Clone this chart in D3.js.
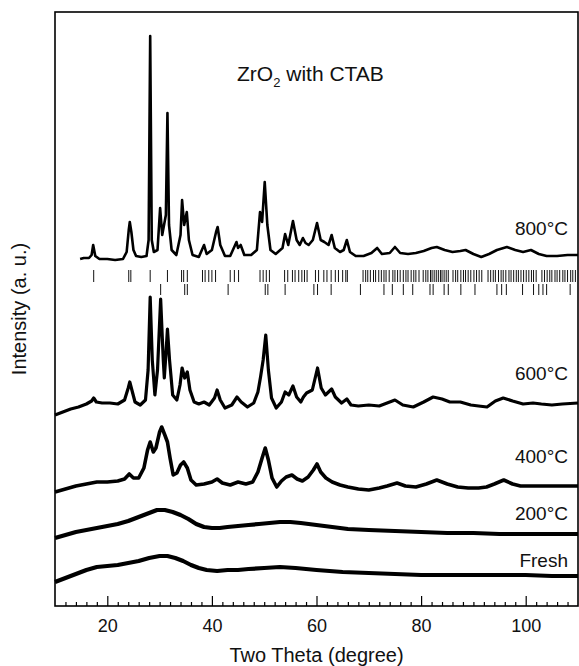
<!DOCTYPE html>
<html>
<head>
<meta charset="utf-8">
<script src="https://cdn.jsdelivr.net/npm/d3@7"></script>
<style>
  body { margin: 0; background: #fff; }
  svg { font-family: "Liberation Sans", Arial, Helvetica, sans-serif; }
</style>
</head>
<body>
<div id="chart"></div>
<script>
// Patterns as [2theta, intensity (a.u., stacked)]
const fresh = [[10,24],[12,28],[14,32],[16,36],[18,39],[20,40],[22,41],[24,43],[26,45],[28,48],[30,50],[31.5,50],[33,48],[34.5,45],[36,41],[37.5,38],[39,36],[41,35],[43,36],[45,36],[47,37],[50,38],[53,39],[56,38],[60,36],[65,34],[70,33],[75,32],[80,31],[85,31],[90,31],[95,31],[100,31],[105,30],[110,30]];

const t200 = [[10,68],[12,71],[14,74],[16,76],[18,78],[20,80],[22,82],[24,85],[26,89],[28,93],[29.5,96],[31,96],[32.5,94],[34,91],[35.5,87],[37,82],[38.5,79],[40,78],[41.5,78],[43,79],[45,80],[47,81],[49,82],[51,83],[53,84],[55,84],[57,83],[60,81],[63,79],[66,77],[70,76],[75,75],[80,74],[85,73],[90,73],[95,72],[100,72],[105,72],[110,72]];

const t400 = [[10,114],[12,117],[14,120],[16,122],[18,124],[20,124],[22,125],[23.3,127],[24.2,132],[25,128],[26,128],[27,138],[27.7,156],[28.2,164],[28.8,154],[29.3,158],[30,174],[30.4,179],[31,171],[31.5,164],[32,148],[32.6,131],[33.3,133],[34,141],[34.6,144],[35.3,138],[36,126],[37,121],[38.5,122],[40,124],[41,127],[42,123],[43.5,121],[45,124],[46.5,122],[47.8,124],[48.8,134],[49.6,148],[50.2,158],[50.8,146],[51.5,128],[52.4,119],[53.3,125],[54.2,129],[55.3,131],[56.3,127],[57.3,125],[58.4,129],[59.4,136],[60.1,142],[60.8,134],[61.8,128],[63,124],[64.5,121],[66,119],[68,117],[70,116],[72,118],[73.5,120],[75.4,123],[77,120],[79,119],[81,122],[83,126],[85,122],[87,119],[89,118],[91,118],[92.5,119],[94,122],[95.8,126],[97.5,122],[99,120],[101,120],[103,120],[106,120],[110,120]];

const t600 = [[10,191],[11.5,194],[13,197],[14.5,199],[16,202],[17,205],[17.4,208],[17.9,204],[19,203],[20.5,203],[22,202],[23.3,206],[24,218],[24.3,224],[24.7,216],[25.3,204],[26.3,201],[27.3,206],[27.8,236],[28.2,309],[28.6,246],[29.1,211],[29.6,236],[30.2,307],[30.7,246],[30.9,228],[31.2,251],[31.5,277],[31.9,246],[32.5,211],[33.3,206],[33.9,221],[34.3,238],[34.8,228],[35.3,234],[35.8,216],[36.6,204],[37.5,202],[38.5,204],[39.5,201],[40.5,208],[41,216],[41.6,206],[42.5,198],[43.8,201],[44.8,209],[45.6,204],[46.8,199],[48,203],[48.8,214],[49.3,229],[49.8,246],[50.3,271],[50.8,236],[51.4,208],[52.3,198],[53.3,204],[54,214],[54.7,211],[55.5,220],[56.2,209],[57,204],[57.5,209],[58.1,213],[59.2,216],[60.2,238],[60.9,218],[61.7,211],[62.9,217],[63.6,209],[64.8,203],[65.8,207],[66.6,201],[68,200],[70,201],[72,200],[73.5,203],[75,206],[76.5,201],[78.5,199],[80.5,204],[82.3,209],[84,207],[85.5,204],[87.5,204],[89.5,201],[91,200],[92.6,199],[94.2,205],[95.7,208],[97.5,205],[99.5,202],[101.4,203],[103,202],[105,201],[107,202],[110,203]];

const t800 = [[14.8,347],[15.5,348],[16.5,348],[17,351],[17.3,361],[17.7,350],[18.5,347],[20,347],[21.5,346],[23,347],[23.7,354],[24.1,376],[24.3,384],[24.6,374],[25,356],[25.5,350],[26.5,349],[27.5,350],[27.9,366],[28.2,570],[28.5,366],[28.9,354],[29.6,356],[30.1,398],[30.5,371],[31.2,391],[31.5,493],[31.8,381],[32.3,356],[33.2,351],[34,371],[34.3,406],[34.7,381],[35.2,394],[35.6,366],[36.3,351],[37.5,349],[38.5,361],[39,352],[40,356],[40.8,374],[41.1,379],[41.6,361],[42.5,350],[43.5,350],[44.7,364],[45,358],[45.5,361],[46.2,351],[47.5,351],[48.6,356],[49.2,394],[49.6,384],[50.1,424],[50.6,381],[51.2,356],[52.2,352],[53.5,358],[54,372],[54.6,361],[55.5,385],[56.2,366],[56.8,361],[57.4,368],[57.9,363],[58.5,361],[59.3,366],[60.1,383],[60.8,366],[61.5,364],[62.3,361],[62.9,371],[63.5,358],[64.5,354],[65.2,356],[65.8,366],[66.4,354],[67.5,350],[69,350],[70.5,353],[71.6,358],[72.5,352],[74,353],[75,359],[76,353],[77.5,352],[79,353],[80.5,355],[82,358],[83,359],[84.5,356],[86,354],[87.5,355],[88.5,356],[90,352],[91.5,349],[93,352],[94.5,356],[96.4,359],[98,356],[99.5,354],[101,356],[102.5,352],[104,350],[106,350],[108,351],[110,351]];

// Reference line positions (2theta)
const refMono = [17.4,24.1,24.5,28.2,31.5,34.2,34.6,35.3,38.2,38.7,39.4,40.0,40.7,43.5,44.3,45.1,49.2,49.8,50.4,51.0,53.9,54.5,55.4,55.9,56.6,57.2,57.7,58.2,59.8,60.4,61.4,62.0,62.8,63.6,64.2,65.0,65.6,65.9,68.9,69.4,69.8,70.3,70.9,71.3,71.9,72.4,72.9,73.3,73.9,74.6,75.0,75.5,76.0,76.6,77.1,77.5,78.1,78.6,79.0,79.6,80.4,80.9,81.3,81.8,82.1,82.5,82.9,83.3,83.7,84.0,84.4,84.8,85.2,86.1,86.6,87.0,87.6,88.1,88.5,89.0,89.5,90.1,90.6,91.1,91.6,92.8,93.3,93.8,94.2,94.8,95.3,95.7,96.2,96.8,97.2,97.7,98.2,98.6,99.1,99.6,100.1,100.6,101.1,101.5,102.0,103.1,103.6,104.1,104.6,105.0,105.6,106.0,106.5,107.1,107.5,108.0,108.6,109.0,109.5];
const refTetra = [30.2,34.8,35.3,43.1,50.2,50.7,54.0,59.5,60.2,62.8,68.4,72.9,74.5,76.6,78.4,81.7,82.3,84.4,85.2,87.6,90.3,94.5,95.4,96.3,99.4,101.5,102.5,103.3,104.0,108.5];

const seriesNames = ["Fresh", "200°C", "400°C", "600°C", "800°C"];
const xTicks = [20, 40, 60, 80, 100];

const width = 579, height = 666;
const marginLeft = 55, marginRight = 1, marginTop = 12, marginBottom = 60;

const x = d3.scaleLinear().domain([10, 110]).range([marginLeft, width - marginRight]);
const y = d3.scaleLinear().domain([0, 594]).range([height - marginBottom, marginTop]);

const svg = d3.select("#chart").append("svg")
  .attr("width", width).attr("height", height)
  .attr("viewBox", [0, 0, width, height]);

// minor ticks
svg.append("g")
  .attr("transform", `translate(0,${height - marginBottom})`)
  .call(d3.axisBottom(x).tickValues(d3.range(12, 110, 2).filter(d => d % 20 !== 0)).tickSize(-4).tickFormat(""))
  .call(g => g.select(".domain").remove())
  .call(g => g.selectAll("line").attr("stroke-width", 1.2));

// major ticks
svg.append("g")
  .attr("transform", `translate(0,${height - marginBottom})`)
  .call(d3.axisBottom(x).tickValues(xTicks).tickSize(-10).tickPadding(13))
  .call(g => g.select(".domain").remove())
  .call(g => g.selectAll("line").attr("stroke-width", 1.2))
  .call(g => g.selectAll("text").attr("font-size", 18).attr("fill", "#111").attr("font-family", null));

// patterns
const line = d3.line().x(d => x(d[0])).y(d => y(d[1])).curve(d3.curveLinear);
const traces = [fresh, t200, t400, t600, t800];
const widths = [4.2, 4.2, 3.6, 3.2, 2.6];
svg.append("g")
  .attr("fill", "none")
  .attr("stroke", "#000")
  .attr("stroke-linejoin", "round")
  .selectAll("path")
  .data(traces)
  .join("path")
  .attr("stroke-width", (d, i) => widths[i])
  .attr("d", line);

// reference markers
svg.append("g")
  .attr("stroke", "#111")
  .attr("stroke-width", 1)
  .selectAll("line")
  .data(refMono)
  .join("line")
  .attr("x1", d => x(d)).attr("x2", d => x(d))
  .attr("y1", 270).attr("y2", 282);

svg.append("g")
  .attr("stroke", "#111")
  .attr("stroke-width", 1)
  .selectAll("line")
  .data(refTetra)
  .join("line")
  .attr("x1", d => x(d)).attr("x2", d => x(d))
  .attr("y1", 284).attr("y2", 295);

// sample labels
const labelY = [567, 520, 463, 380, 235];
svg.append("g")
  .attr("font-size", 19)
  .attr("fill", "#111")
  .attr("text-anchor", "end")
  .selectAll("text")
  .data(seriesNames)
  .join("text")
  .attr("x", 568)
  .attr("y", (d, i) => labelY[i])
  .text(d => d);

// frame
svg.append("rect")
  .attr("x", marginLeft).attr("y", marginTop)
  .attr("width", width - marginRight - marginLeft)
  .attr("height", height - marginBottom - marginTop)
  .attr("fill", "none").attr("stroke", "#000").attr("stroke-width", 1.6);

// title
const title = svg.append("text")
  .attr("x", 237).attr("y", 81)
  .attr("font-size", 21)
  .attr("fill", "#111");
title.append("tspan").text("ZrO");
title.append("tspan").attr("font-size", 13).attr("dy", 6).text("2");
title.append("tspan").attr("dy", -6).text(" with CTAB");

// axis titles
svg.append("text")
  .attr("x", (marginLeft + width - marginRight) / 2)
  .attr("y", 662)
  .attr("text-anchor", "middle")
  .attr("font-size", 20)
  .attr("fill", "#111")
  .text("Two Theta (degree)");

svg.append("text")
  .attr("transform", `translate(26,${(marginTop + height - marginBottom) / 2}) rotate(-90)`)
  .attr("text-anchor", "middle")
  .attr("font-size", 20)
  .attr("fill", "#111")
  .text("Intensity (a. u.)");
</script>
</body>
</html>
